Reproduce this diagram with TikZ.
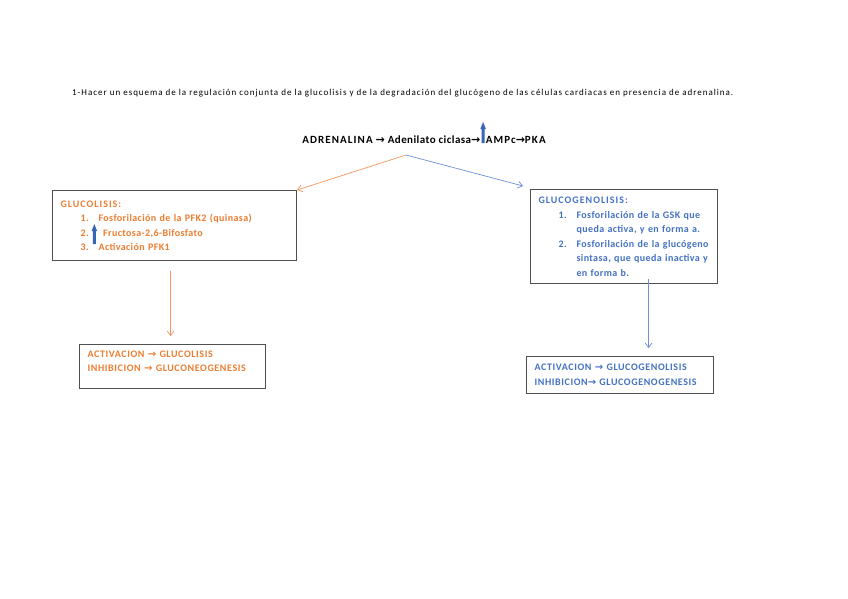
\documentclass[tikz,border=0pt]{standalone}
\usepackage{fontspec}
\setmainfont[LetterSpace=4]{Carlito}
\newfontfamily\symfont{DejaVu Sans}
\usepackage{xcolor}
\usepackage{tikz}
\usetikzlibrary{arrows.meta,positioning,calc}
\definecolor{txtorange}{RGB}{237,125,49}
\definecolor{txtblue}{RGB}{68,114,196}
\definecolor{arrorange}{RGB}{244,150,95}
\definecolor{arrblue}{RGB}{110,145,220}
\definecolor{upblue}{RGB}{58,100,180}
\definecolor{boxgray}{RGB}{80,80,80}
\newcommand{\ra}{{\symfont\bfseries →}}
\newcommand{\caps}[1]{{\addfontfeature{LetterSpace=10}#1}}
\newcommand{\rcaps}[1]{{\addfontfeature{LetterSpace=6}#1}}
% thick blue up arrow, from #1 to #2 (pt, relative to baseline)
\newcommand{\uparr}[2]{\smash{\tikz[baseline=0pt]\fill[upblue] (-1.4pt,{#1*1pt}) -- (1.4pt,{#1*1pt})
  -- (1.4pt,{(#2-7)*1pt}) -- (2.8pt,{(#2-7)*1pt}) -- (0pt,{#2*1pt}) -- (-2.8pt,{(#2-7)*1pt})
  -- (-1.4pt,{(#2-7)*1pt}) -- cycle;}}
\newcommand{\stepitem}[1]{\hspace*{20pt}\makebox[18pt][l]{#1}}
\tikzset{
  obox/.style ={rectangle, draw=boxgray, line width=1.1pt, fill=white, anchor=north west,
                align=left, inner xsep=8pt, inner ysep=0pt, text=txtorange,
                font=\bfseries\fontsize{10}{14.5}\selectfont},
  bbox/.style ={obox, text=txtblue},
  oflow/.style={-{Straight Barb[length=1.6mm,width=2.4mm]}, line width=0.7pt, draw=arrorange},
  bflow/.style={-{Straight Barb[length=1.6mm,width=2.4mm]}, line width=0.7pt, draw=arrblue}
}
\begin{document}
\begin{tikzpicture}[x=1pt, y=-1pt, font=\fontsize{10}{12}\selectfont]
\fill[white] (0,0) rectangle (848,599);
\useasboundingbox (0,0) rectangle (848,599);
% question
\node[anchor=base west, inner sep=0pt, font=\fontsize{9}{11}\selectfont\addfontfeature{LetterSpace=11}] (title) at (72,96)
  {1-Hacer un esquema de la regulación conjunta de la glucolisis y de la degradación del glucógeno de las células cardiacas en presencia de adrenalina.};
\node[anchor=base, inner sep=0pt, font=\bfseries\fontsize{11}{13}\selectfont] (adren) at (424,143)
  {\caps{ADRENALINA} \ra{} Adenilato ciclasa\ra\uparr{0}{21}\caps{AMPc}\ra\caps{PKA}};
\coordinate (split) at (406,155);

% glucolisis
\node[obox, minimum width=244pt, text width=228pt, minimum height=70pt] (glyc) at (52,190)
  {\caps{GLUCOLISIS:}\\
   \stepitem{1.}Fosforilación de la PFK2 (quinasa)\\
   \stepitem{2.}\hspace*{-7pt}\uparr{-8}{12}\hspace{6pt}Fructosa-2,6-Bifosfato\\
   \stepitem{3.}Activación PFK1};
\node[obox, minimum width=186pt, text width=170pt, minimum height=44pt, anchor=north,
      below=83pt of glyc, xshift=-2pt] (glycres)
  {\rcaps{ACTIVACION} \ra{} \rcaps{GLUCOLISIS}\\
   \rcaps{INHIBICION} \ra{} \rcaps{GLUCONEOGENESIS}\rule[-10.5pt]{0pt}{10.5pt}};
\draw[oflow] (split) -- (glyc.north east);
\draw[oflow] ([xshift=-4pt,yshift=-10pt]glyc.south) -- ([xshift=-2pt,yshift=8pt]glycres.north);

% glucogenolisis
\node[bbox, minimum width=187pt, text width=171pt, minimum height=94pt] (glgen) at (530,189)
  {\caps{GLUCOGENOLISIS:}\\
   \stepitem{1.}Fosforilación de la GSK que\\
   \stepitem{}queda activa, y en forma a.\\
   \stepitem{2.}Fosforilación de la glucógeno\\
   \stepitem{}sintasa, que queda inactiva y\\
   \stepitem{}en forma b.};
\node[bbox, minimum width=187pt, text width=171pt, minimum height=37pt, anchor=north,
      below=72pt of glgen, xshift=-4pt, font=\bfseries\fontsize{10}{15}\selectfont] (glgenres)
  {\rcaps{ACTIVACION} \ra{} \rcaps{GLUCOGENOLISIS}\\
   \rcaps{INHIBICION}\ra{} \rcaps{GLUCOGENOGENESIS}};
\draw[bflow] (split) -- ([xshift=-7pt,yshift=3pt]glgen.north west);
\draw[bflow] ([xshift=24.5pt,yshift=5pt]glgen.south) -- ([xshift=28.5pt,yshift=8pt]glgenres.north);
\end{tikzpicture}
\end{document}
